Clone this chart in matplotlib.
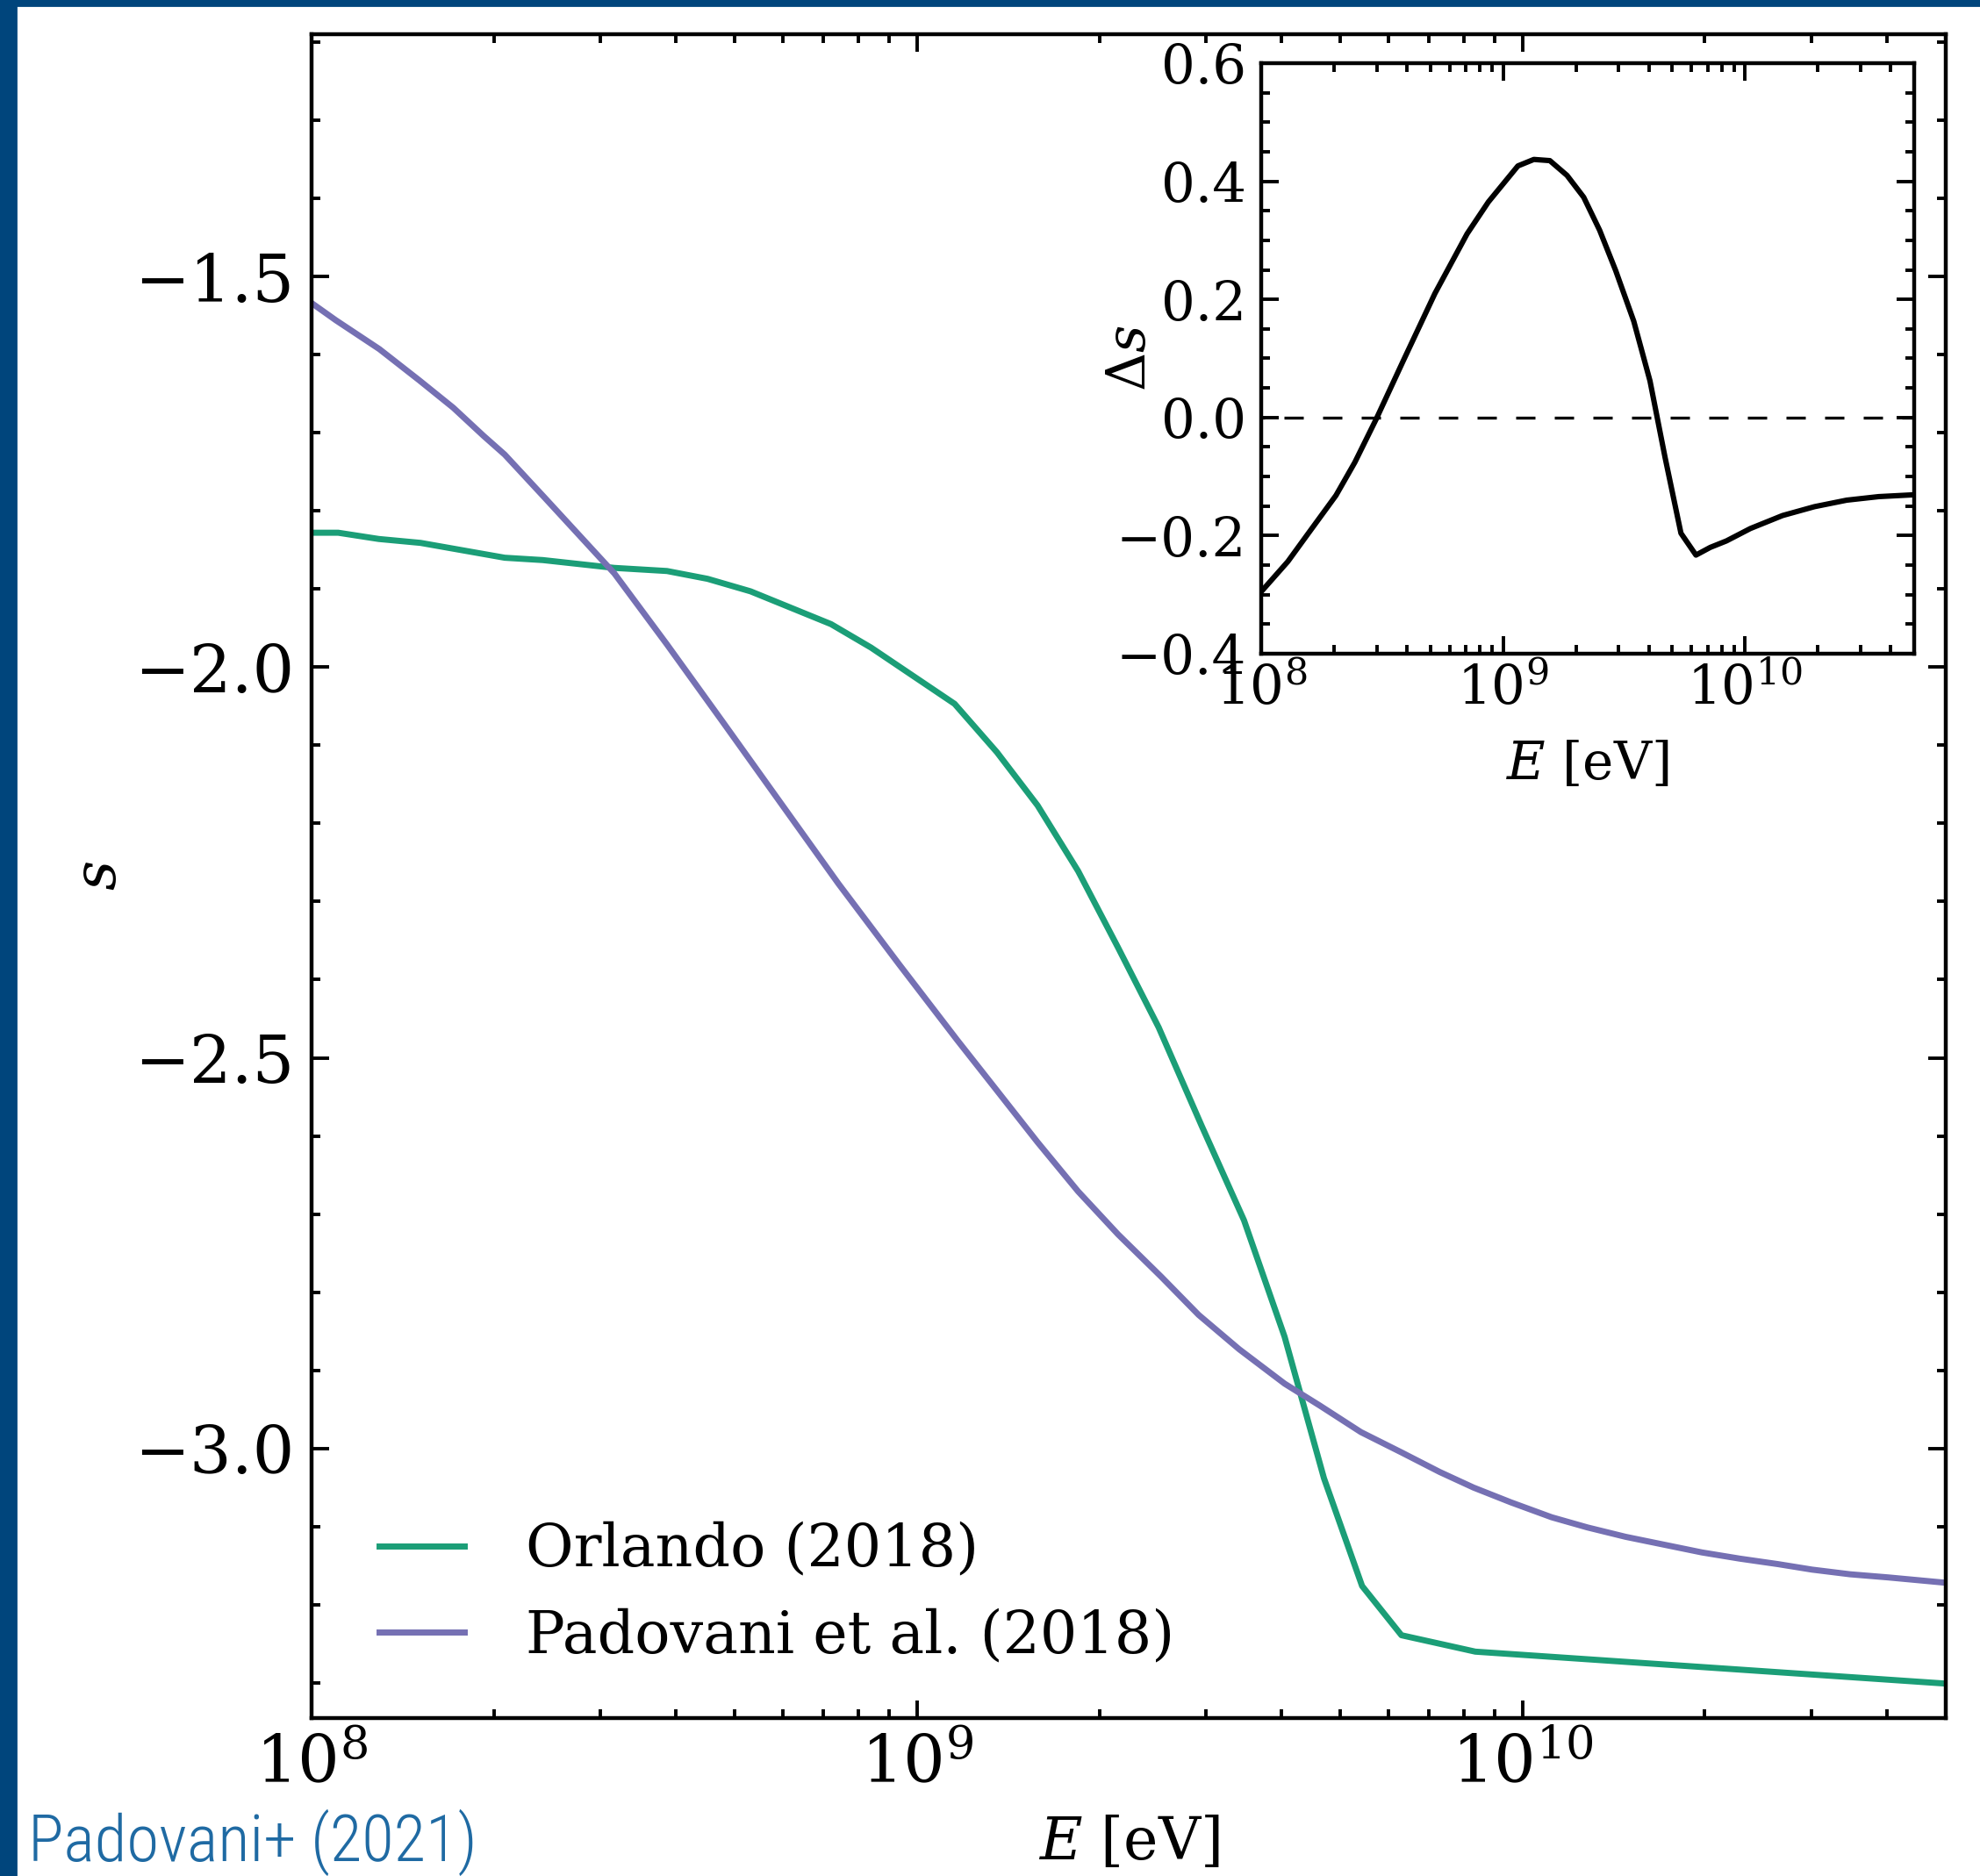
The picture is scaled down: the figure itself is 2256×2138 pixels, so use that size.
import numpy as np
import matplotlib
matplotlib.use("Agg")
import matplotlib.pyplot as plt
from matplotlib import font_manager as fm
from matplotlib.ticker import MultipleLocator, LogLocator, NullFormatter

# ---------------- data ----------------
# Orlando (2018): spectral slope s vs log10(E/eV)
orlando_log10E = [8.000, 8.044, 8.111, 8.180, 8.319, 8.382, 8.500, 8.587, 8.654,
                  8.725, 8.858, 8.924, 9.062, 9.132, 9.199, 9.266, 9.332, 9.399,
                  9.470, 9.540, 9.607, 9.672, 9.735, 9.800, 9.922, 10.701]
orlando_s = [-1.828, -1.828, -1.836, -1.841, -1.860, -1.863, -1.873, -1.877, -1.887,
             -1.903, -1.945, -1.975, -2.047, -2.109, -2.177, -2.261, -2.359, -2.461,
             -2.587, -2.708, -2.857, -3.038, -3.176, -3.239, -3.260, -3.301]

# Padovani et al. (2018)
padovani_log10E = [8.000, 8.040, 8.112, 8.178, 8.234, 8.284, 8.319, 8.386, 8.500,
                   8.587, 8.679, 8.774, 8.870, 8.970, 9.066, 9.128, 9.199, 9.266,
                   9.332, 9.403, 9.465, 9.532, 9.607, 9.665, 9.733, 9.800, 9.863,
                   9.919, 9.981, 10.048, 10.107, 10.170, 10.233, 10.296, 10.359,
                   10.422, 10.478, 10.541, 10.604, 10.701]
padovani_s = [-1.534, -1.556, -1.593, -1.633, -1.668, -1.704, -1.728, -1.784, -1.880,
              -1.971, -2.070, -2.173, -2.277, -2.380, -2.477, -2.538, -2.608, -2.671,
              -2.726, -2.780, -2.829, -2.873, -2.917, -2.945, -2.979, -3.005, -3.030,
              -3.050, -3.069, -3.088, -3.101, -3.113, -3.123, -3.133, -3.141,
              -3.148, -3.155, -3.161, -3.165, -3.172]

# Inset: difference Delta s
delta_log10E = [8.000, 8.110, 8.188, 8.309, 8.387, 8.475, 8.586, 8.718, 8.851, 8.939,
                9.061, 9.127, 9.193, 9.264, 9.333, 9.399, 9.465, 9.540, 9.607, 9.669,
                9.735, 9.797, 9.856, 9.923, 10.022, 10.155, 10.287, 10.420, 10.552, 10.692]
delta_s = [-0.295, -0.244, -0.200, -0.132, -0.076, -0.003, 0.095, 0.210, 0.311, 0.365,
           0.426, 0.437, 0.435, 0.410, 0.373, 0.317, 0.249, 0.163, 0.062, -0.067,
           -0.196, -0.233, -0.220, -0.209, -0.188, -0.166, -0.151, -0.140, -0.134, -0.131]

labels = ["Orlando (2018)", "Padovani et al. (2018)"]
colors = ["#1b9e77", "#7570b3"]
credit = "Padovani+ (2021)"

# ---------------- fonts ----------------
names = {f.name for f in fm.fontManager.ttflist}
plt.rcParams["font.family"] = "DejaVu Serif"
plt.rcParams["mathtext.fontset"] = "dejavuserif"

credit_family = ["DejaVu Sans"]
for cand in ["Roboto Condensed", "Fira Sans Condensed", "Open Sans"]:
    if cand in names:
        credit_family = [cand]
        break

# ---------------- figure ----------------
DPI = 200
fig = plt.figure(figsize=(2256 / DPI, 2138 / DPI), dpi=DPI)

ax = fig.add_axes([355 / 2256, 1 - 1958 / 2138, (2217 - 355) / 2256, (1958 - 39) / 2138])
E1 = 10.0 ** np.array(orlando_log10E)
E2 = 10.0 ** np.array(padovani_log10E)
ax.plot(E1, orlando_s, color=colors[0], lw=2.5, label=labels[0])
ax.plot(E2, padovani_s, color=colors[1], lw=2.5, label=labels[1])
ax.set_xscale("log")
ax.set_xlim(1e8, 5e10)
ax.set_ylim(-3.345, -1.19)
ax.yaxis.set_major_locator(MultipleLocator(0.5))
ax.yaxis.set_minor_locator(MultipleLocator(0.1))
ax.xaxis.set_major_locator(LogLocator(base=10, numticks=20))
ax.xaxis.set_minor_locator(LogLocator(base=10, subs=np.arange(2, 10), numticks=20))
ax.xaxis.set_minor_formatter(NullFormatter())
ax.tick_params(which="both", direction="in", top=True, right=True, width=1.4)
ax.tick_params(which="major", length=7.2)
ax.tick_params(which="minor", length=3.6)
ax.tick_params(axis="y", which="major", labelsize=27, pad=7)
ax.tick_params(axis="x", which="major", labelsize=27, pad=6)
for sp in ax.spines.values():
    sp.set_linewidth(1.6)
ax.set_xlabel("$E$ [eV]", fontsize=24)
ax.xaxis.set_label_coords(0.5, -0.057)
ax.set_ylabel("$s$", fontsize=24)
ax.yaxis.set_label_coords(-0.112, 0.5)
ax.legend(loc="lower left", bbox_to_anchor=(0.0272, 0.0176), frameon=False, fontsize=24,
          handlelength=1.45, handletextpad=1.05, labelspacing=0.5, borderpad=0.4,
          borderaxespad=0.0)

# inset
axi = fig.add_axes([1437 / 2256, 1 - 745 / 2138, (2181 - 1437) / 2256, (745 - 72) / 2138])
axi.plot(10.0 ** np.array(delta_log10E), delta_s, color="black", lw=2.2)
axi.axhline(0.0, color="black", lw=1.2, ls=(5.4, (6.6, 6.6)))
axi.set_xscale("log")
axi.set_xlim(1e8, 5e10)
axi.set_ylim(-0.4, 0.6)
axi.yaxis.set_major_locator(MultipleLocator(0.2))
axi.yaxis.set_minor_locator(MultipleLocator(0.05))
axi.xaxis.set_major_locator(LogLocator(base=10, numticks=20))
axi.xaxis.set_minor_locator(LogLocator(base=10, subs=np.arange(2, 10), numticks=20))
axi.xaxis.set_minor_formatter(NullFormatter())
axi.tick_params(which="both", direction="in", top=True, right=True, width=1.4)
axi.tick_params(which="major", length=7.2)
axi.tick_params(which="minor", length=3.6)
axi.tick_params(axis="y", which="major", labelsize=22, pad=6)
axi.tick_params(axis="x", which="major", labelsize=22, pad=4)
for sp in axi.spines.values():
    sp.set_linewidth(1.6)
axi.set_xlabel("$E$ [eV]", fontsize=21.5)
axi.xaxis.set_label_coords(0.5, -0.144)
axi.set_ylabel(r"$\Delta s$", fontsize=22)
axi.yaxis.set_label_coords(-0.16, 0.5)

# slide decoration: blue border and credit
fig.patches.append(matplotlib.patches.Rectangle((0, 0), 18 / 2256, 1, transform=fig.transFigure,
                                                color="#00457c", zorder=10))
fig.patches.append(matplotlib.patches.Rectangle((0, 1 - 6 / 2138), 1, 6 / 2138,
                                                transform=fig.transFigure, color="#00457c", zorder=10))
fig.text(32 / 2256, 1 - 2121 / 2138, credit, color="#1f6aa3", fontsize=27,
         family=credit_family, fontweight=300, ha="left", va="baseline")

fig.savefig("out.png", dpi=DPI)
